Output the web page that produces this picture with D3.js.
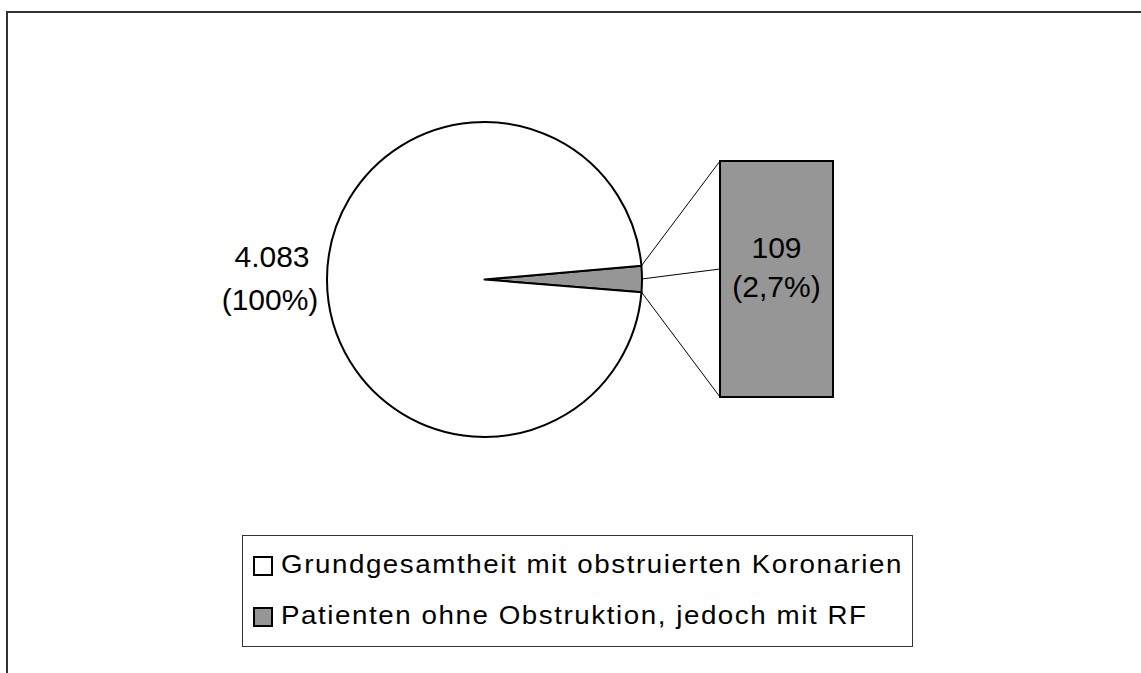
<!DOCTYPE html>
<html>
<head>
<meta charset="utf-8">
<script src="https://cdn.jsdelivr.net/npm/d3@7"></script>
<style>
  html, body { margin: 0; padding: 0; background: #fff; }
  svg { display: block; font-family: "Liberation Sans", Arial, sans-serif; }
</style>
</head>
<body>
<svg id="chart" width="1141" height="673"></svg>
<script>
// data
var categories = ["Grundgesamtheit mit obstruierten Koronarien", "Patienten ohne Obstruktion, jedoch mit RF"];
var values = [3974, 109];
var colors = ["#ffffff", "#969696"];

var svg = d3.select("#chart"),
    width = +svg.attr("width"),
    height = +svg.attr("height");

var de = d3.formatLocale({decimal: ",", thousands: ".", grouping: [3], currency: ["", " €"]});
var total = d3.sum(values);
var part = values[1];

// frame (only left and top are visible)
svg.append("path")
    .attr("d", "M7," + height + "V12H" + width)
    .attr("fill", "none")
    .attr("stroke", "#333")
    .attr("stroke-width", 2);

// pie
var cx = 484.5, cy = 279.5, r = 157.5;
var startDeg = 85;
var pie = d3.pie().sort(null)
    .startAngle(startDeg * Math.PI / 180)
    .endAngle(startDeg * Math.PI / 180 + 2 * Math.PI);
var arcs = pie([values[1], values[0]]);
var arc = d3.arc().innerRadius(0).outerRadius(r);

var g = svg.append("g").attr("transform", "translate(" + cx + "," + cy + ")");
g.selectAll("path")
    .data(arcs)
    .enter().append("path")
    .attr("d", arc)
    .attr("fill", function (d, i) { return i === 0 ? colors[1] : colors[0]; })
    .attr("stroke", "#000")
    .attr("stroke-width", 2)
    .attr("stroke-linejoin", "round");

// bar of pie
var barX = 720, barW = 113;
var y = d3.scaleLinear().domain([0, part]).range([397, 161]);

var small = arcs[0];
function rim(a) {
    return [cx + r * Math.sin(a), cy - r * Math.cos(a)];
}
var pTop = rim(small.startAngle),
    pBot = rim(small.endAngle),
    pMid = rim((small.startAngle + small.endAngle) / 2);

var lines = [
    [pTop, [barX, y(part)]],
    [pMid, [barX, 269]],
    [pBot, [barX, y(0)]]
];
svg.append("g").selectAll("line")
    .data(lines)
    .enter().append("line")
    .attr("x1", function (d) { return d[0][0]; })
    .attr("y1", function (d) { return d[0][1]; })
    .attr("x2", function (d) { return d[1][0]; })
    .attr("y2", function (d) { return d[1][1]; })
    .attr("stroke", "#000")
    .attr("stroke-width", 1);

svg.append("rect")
    .attr("x", barX)
    .attr("y", y(part))
    .attr("width", barW)
    .attr("height", y(0) - y(part))
    .attr("fill", colors[1])
    .attr("stroke", "#000")
    .attr("stroke-width", 2);

// labels
var bigLabel = svg.append("text")
    .attr("text-anchor", "middle")
    .attr("font-size", 30)
    .attr("fill", "#000");
bigLabel.append("tspan").attr("x", 272).attr("y", 267).text(de.format(",")(total));
bigLabel.append("tspan").attr("x", 270).attr("y", 310).text("(" + de.format(".0%")(1) + ")");

var barLabel = svg.append("text")
    .attr("text-anchor", "middle")
    .attr("font-size", 30)
    .attr("fill", "#000");
barLabel.append("tspan").attr("x", barX + barW / 2).attr("y", 258).text(de.format(",")(part));
barLabel.append("tspan").attr("x", barX + barW / 2).attr("y", 297).text("(" + de.format(".1%")(part / total) + ")");

// legend
var legend = svg.append("g");
legend.append("rect")
    .attr("x", 242.5).attr("y", 535.5)
    .attr("width", 670).attr("height", 111)
    .attr("fill", "#fff")
    .attr("stroke", "#333")
    .attr("stroke-width", 1);

var item = legend.selectAll("g.item")
    .data(categories)
    .enter().append("g")
    .attr("class", "item")
    .attr("transform", function (d, i) { return "translate(0," + (i * 51) + ")"; });

item.append("rect")
    .attr("x", 254).attr("y", 557)
    .attr("width", 18).attr("height", 18)
    .attr("fill", function (d, i) { return colors[i]; })
    .attr("stroke", "#000")
    .attr("stroke-width", 2);

// legend text in the picture is wider than plain Arial: a bit of stretch and spacing
item.append("text")
    .attr("transform", "translate(281,573) scale(1.11,1)")
    .attr("font-size", 25)
    .attr("letter-spacing", "1.4px")
    .attr("fill", "#000")
    .text(function (d) { return d; });
</script>
</body>
</html>
